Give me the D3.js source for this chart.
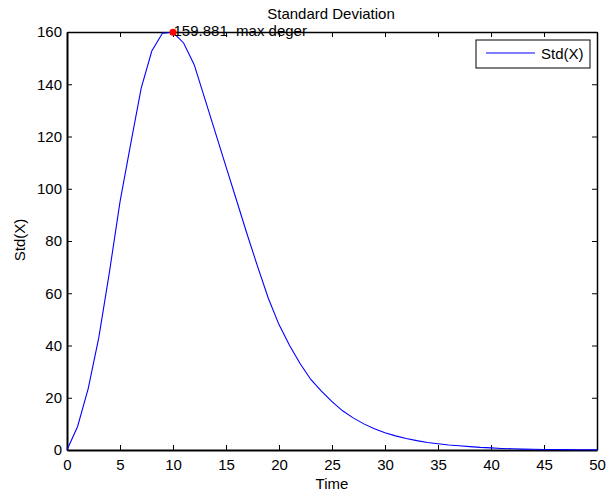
<!DOCTYPE html>
<html>
<head>
<meta charset="utf-8">
<script src="https://cdn.jsdelivr.net/npm/d3@7"></script>
<style>
  body { margin: 0; background: #fff; }
  text { font-family: "Liberation Sans", Arial, sans-serif; }
</style>
</head>
<body>
<div id="content"></div>
<script>
// time steps and std values
const time = [0,1,2,3,4,5,6,7,8,9,10,11,12,13,14,15,16,17,18,19,20,
              21,22,23,24,25,26,27,28,29,30,31,32,33,34,35,36,37,38,39,40,
              41,42,43,44,45,46,47,48,49,50];
const stdX = [0, 9, 23.5, 43, 68, 95, 117, 138.5, 152.7, 159.5, 159.881,
              155.8, 147.5, 134.5, 121.5, 108.5, 95.5, 82.5, 70, 58, 48,
              40, 33, 27, 22.5, 18.5, 15, 12.3, 10, 8.1, 6.6,
              5.4, 4.4, 3.6, 2.9, 2.4, 1.9, 1.6, 1.3, 1.0, 0.8,
              0.6, 0.45, 0.35, 0.28, 0.22, 0.17, 0.13, 0.1, 0.08, 0.06];
const xTicks = [0,5,10,15,20,25,30,35,40,45,50];
const yTicks = [0,20,40,60,80,100,120,140,160];
const seriesName = "Std(X)";
const maxLabel = "159.881  max deger";

const data = time.map((t,i) => ({t: t, v: stdX[i]}));

//////////////////// drawing area
const W = 607, H = 497;
const margin = { left:67, right:10, top:32, bottom:47 };
const iW = W - margin.left - margin.right;
const iH = H - margin.top - margin.bottom;

const xScale = d3.scaleLinear().domain([0, 50]).range([0, iW]);
const yScale = d3.scaleLinear().domain([0, 160]).range([iH, 0]);

const svg = d3.select("#content").append("svg")
    .attr("width", W)
    .attr("height", H);

svg.append("rect").attr("width", W).attr("height", H).attr("fill", "#fff");

const g = svg.append("g")
    .attr("transform", "translate(" + margin.left + "," + margin.top + ")");

// axes, ticks pointing inward like matlab
const fontSize = "15px";
function styleAxis(sel, showText, w){
    sel.select(".domain").attr("stroke", "#000").attr("stroke-width", w);
    sel.selectAll(".tick line").attr("stroke", "#000").attr("stroke-width", 1);
    sel.selectAll(".tick text").attr("font-size", fontSize)
        .attr("font-family", "Liberation Sans, Arial, sans-serif")
        .attr("fill", "#000");
    if(!showText) sel.selectAll(".tick text").remove();
}

const xAxis = g.append("g")
    .attr("transform", "translate(0," + iH + ")")
    .call(d3.axisBottom(xScale).tickValues(xTicks).tickSizeInner(-5).tickSizeOuter(0).tickPadding(9));
styleAxis(xAxis, true, 2);

const xTop = g.append("g")
    .call(d3.axisTop(xScale).tickValues(xTicks).tickSizeInner(-5).tickSizeOuter(0));
styleAxis(xTop, false, 1.5);

const yAxis = g.append("g")
    .call(d3.axisLeft(yScale).tickValues(yTicks).tickSizeInner(-5).tickSizeOuter(0).tickPadding(5));
styleAxis(yAxis, true, 2);

const yRight = g.append("g")
    .attr("transform", "translate(" + iW + ",0)")
    .call(d3.axisRight(yScale).tickValues(yTicks).tickSizeInner(-5).tickSizeOuter(0));
styleAxis(yRight, false, 1.5);

// the curve
const line = d3.line()
    .x(d => xScale(d.t))
    .y(d => yScale(d.v));

g.append("path")
    .datum(data)
    .attr("fill", "none")
    .attr("stroke", "#0000ff")
    .attr("stroke-width", 1.1)
    .attr("d", line);

// max marker
const maxD = data.reduce((a,b) => b.v > a.v ? b : a);
g.append("circle")
    .attr("cx", xScale(maxD.t))
    .attr("cy", yScale(maxD.v))
    .attr("r", 3.5)
    .attr("fill", "#ff0000");

g.append("text")
    .attr("x", xScale(maxD.t) + 0.5)
    .attr("y", yScale(maxD.v) + 4)
    .attr("font-size", fontSize)
    .attr("fill", "#000")
    .style("white-space", "pre")
    .text(maxLabel);

// titles
svg.append("text")
    .attr("x", 331).attr("y", 19)
    .attr("text-anchor", "middle")
    .attr("font-size", fontSize)
    .text("Standard Deviation");

svg.append("text")
    .attr("x", margin.left + iW/2).attr("y", 489)
    .attr("text-anchor", "middle")
    .attr("font-size", fontSize)
    .text("Time");

svg.append("text")
    .attr("transform", "translate(25,240)rotate(-90)")
    .attr("text-anchor", "middle")
    .attr("font-size", fontSize)
    .text("Std(X)");

// legend
const legend = svg.append("g").attr("transform", "translate(476,40)");
legend.append("rect")
    .attr("width", 114).attr("height", 28)
    .attr("fill", "#fff")
    .attr("stroke", "#000")
    .attr("stroke-width", 1);
legend.append("line")
    .attr("x1", 10).attr("x2", 59)
    .attr("y1", 13).attr("y2", 13)
    .attr("stroke", "#0000ff")
    .attr("stroke-width", 1.1);
legend.append("text")
    .attr("x", 65).attr("y", 19)
    .attr("font-size", fontSize)
    .text(seriesName);
</script>
</body>
</html>
